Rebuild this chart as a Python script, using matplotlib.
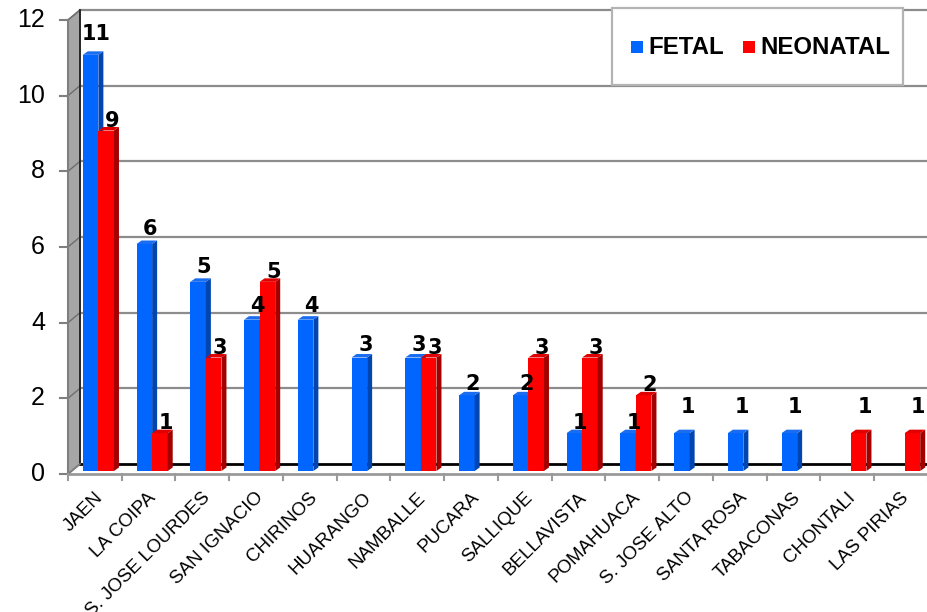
import matplotlib
matplotlib.use('Agg')
import matplotlib.pyplot as plt
from matplotlib.patches import Polygon, Rectangle
import numpy as np

plt.rcParams['font.family'] = ['Liberation Sans', 'DejaVu Sans']

categories = ["JAEN", "LA COIPA", "S. JOSE LOURDES", "SAN IGNACIO", "CHIRINOS",
              "HUARANGO", "NAMBALLE", "PUCARA", "SALLIQUE", "BELLAVISTA",
              "POMAHUACA", "S. JOSE ALTO", "SANTA ROSA", "TABACONAS",
              "CHONTALI", "LAS PIRIAS"]
fetal = [11, 6, 5, 4, 4, 3, 3, 2, 2, 1, 1, 1, 1, 1, 0, 0]
neonatal = [9, 1, 3, 5, 0, 0, 3, 0, 3, 3, 2, 0, 0, 0, 1, 1]
series_names = ["FETAL", "NEONATAL"]
yticks = [0, 2, 4, 6, 8, 10, 12]

# colours: front, side, top
blue = ("#0066FF", "#0045B0", "#1A6CF0")
red = ("#FF0000", "#A50000", "#E00000")

W, H = 928, 612
fig = plt.figure(figsize=(W / 100, H / 100), dpi=100)
X0, X1 = 68, 928
Y0, Y12 = 474, 20
ax = fig.add_axes([X0 / W, 1 - Y0 / H, (X1 - X0) / W, (Y0 - Y12) / H])
n = len(categories)
ax.set_xlim(0, n)
ax.set_ylim(0, 12)
ax.axis('off')

px = n / (X1 - X0)      # data units per pixel (x)
py = 12 / (Y0 - Y12)    # data units per pixel (y)

# back wall offset
bdx, bdy = 12 * px, 10 * py

# side wall
ax.add_patch(Polygon([(0, 0), (bdx, bdy), (bdx, 12 + bdy), (0, 12)],
                     closed=True, facecolor="#A6A6A6", edgecolor="#7F7F7F",
                     lw=1.2, clip_on=False, zorder=1))
# gridlines on back wall + side wall
for t in yticks[1:]:
    ax.plot([bdx, n + 1], [t + bdy, t + bdy], color="#8C8C8C", lw=1.6,
            clip_on=False, zorder=1)
    ax.plot([0, bdx], [t, t + bdy], color="#6E6E6E", lw=1.0,
            clip_on=False, zorder=2)
# back wall edges
ax.plot([bdx, bdx], [bdy, 12 + bdy], color="#202020", lw=1.3, clip_on=False, zorder=2)
ax.plot([bdx, n + 1], [bdy, bdy], color="#000000", lw=2.0, clip_on=False, zorder=2)
# floor
ax.plot([0, n + 1], [0, 0], color="#9A9A9A", lw=2.0, clip_on=False, zorder=2)
ax.plot([0, bdx], [0, bdy], color="#7F7F7F", lw=1.2, clip_on=False, zorder=2)
# y axis front edge & ticks
ax.plot([0, 0], [0, 12], color="#7F7F7F", lw=1.5, clip_on=False, zorder=2)
for t in yticks:
    ax.plot([-8 * px, 0], [t, t], color="#7F7F7F", lw=1.5, clip_on=False, zorder=2)
    ax.text(-23 * px, t, str(t), ha='right', va='center', fontsize=18,
            color="#000000")
# x ticks
for i in range(n + 1):
    ax.plot([i, i], [0, -6 * py], color="#9A9A9A", lw=1.5, clip_on=False, zorder=2)

# bars
w = 0.29
bar_dx, bar_dy = 3.5 * px, 3 * py
sdx, sdy = 5 * px, 3.5 * py
idx = np.arange(n)

def draw_series(values, other, offset, cols):
    xs = idx + 0.5 + offset + bar_dx
    vals = np.array(values, dtype=float)
    mask = vals > 0
    ax.bar(xs[mask], vals[mask], width=w, bottom=bar_dy, align='edge',
           color=cols[0], edgecolor='none', zorder=5)
    for x, v, o in zip(xs, values, other):
        if v <= 0:
            continue
        xl, xr = x, x + w
        b = bar_dy
        ax.add_patch(Polygon([(xr, b), (xr + sdx, b + sdy), (xr + sdx, b + v + sdy), (xr, b + v)],
                             closed=True, facecolor=cols[1], edgecolor='none', zorder=5))
        ax.add_patch(Polygon([(xl, b + v), (xl + sdx, b + v + sdy), (xr + sdx, b + v + sdy), (xr, b + v)],
                             closed=True, facecolor=cols[2], edgecolor='none', zorder=5))
        if cols is blue:
            gap = 1.0 * v
        else:
            gap = 0.5
        if v == 1 and o == 0:
            gap = 17
        ax.text(x + w / 2 + 6 * px, b + v + sdy + gap * py, str(v),
                ha='center', va='baseline', fontsize=15, fontweight='bold',
                family=['DejaVu Sans'], zorder=6)

draw_series(fetal, neonatal, -w, blue)
draw_series(neonatal, fetal, 0.0, red)

# category labels
for i, c in enumerate(categories):
    ax.text(i + 0.5 - 1 * px, -15 * py, c, rotation=45, ha='right', va='top',
            rotation_mode='anchor', fontsize=13.5, color="#000000")

# legend
def fx(p):
    return p / W

def fy(p):
    return 1 - p / H

fig.patches.append(Rectangle((fx(612), fy(85)), fx(903) - fx(612), fy(8) - fy(85),
                             transform=fig.transFigure, facecolor='white',
                             edgecolor="#B4B4B4", lw=1.6, zorder=10))
for (name, cols, sx) in [(series_names[0], blue, 631), (series_names[1], red, 743)]:
    fig.patches.append(Rectangle((fx(sx), fy(53)), fx(12), 12 / H,
                                 transform=fig.transFigure, facecolor=cols[0],
                                 edgecolor='none', zorder=11))
    fig.text(fx(sx + 17), fy(47), name, ha='left', va='center', fontsize=17.3,
             fontweight='bold', zorder=12)

fig.savefig("out.png", dpi=100)
